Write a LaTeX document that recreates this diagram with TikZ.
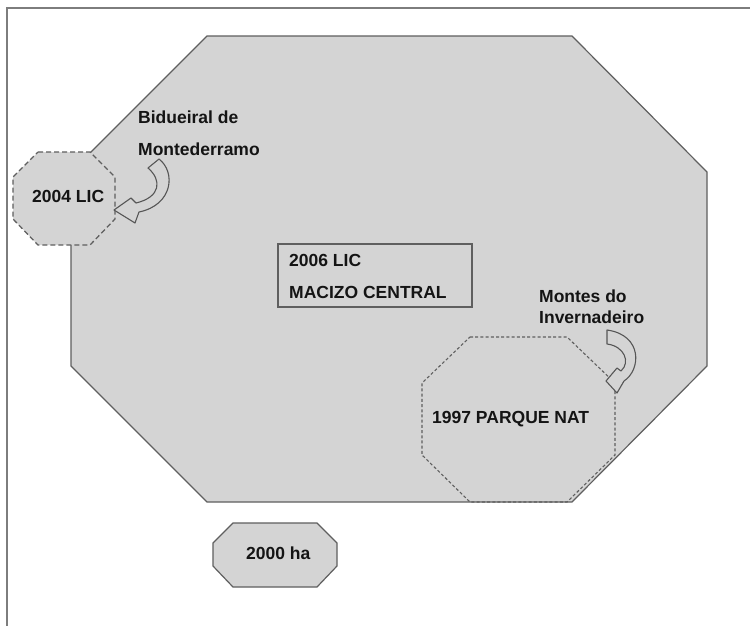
\documentclass[tikz,border=0pt]{standalone}
\usepackage{fontspec}
\setmainfont{Liberation Sans}
\definecolor{shade}{RGB}{212,212,212}
\definecolor{edge}{RGB}{95,95,95}
\definecolor{txt}{RGB}{20,20,20}
\definecolor{framec}{RGB}{125,125,125}
\begin{document}
\begin{tikzpicture}[x=1pt,y=-1pt,
  lbl/.style={font=\fontsize{17.5}{20}\selectfont\bfseries, text=txt, inner sep=0pt, anchor=base west},
  octsolid/.style={fill=shade, draw=edge, line width=1.2pt, line join=miter},
  octdash/.style={fill=shade, draw=edge, line width=1.3pt, dash pattern=on 5pt off 3pt},
  octdot/.style={draw=edge, line width=1.1pt, dash pattern=on 3pt off 2.2pt},
  blockarrow/.style={fill=shade, draw=edge!90!black, line width=1.1pt, line join=round}]
\useasboundingbox (0,0) rectangle (750,625);
\fill[white] (0,0) rectangle (750,625);
\begin{scope}
\clip (0,0) rectangle (750,625);
\draw[framec, line width=1.5pt] (7,8) rectangle (770,650);
\end{scope}
% main octagon
\draw[octsolid] (207,36) -- (572,36) -- (707,172) -- (707,366) -- (572,502) -- (207,502) -- (71,366) -- (71,172) -- cycle;
% 2004 LIC octagon
\draw[octdash] (38,152) -- (90,152) -- (115,177) -- (115,219) -- (90,245) -- (38,245) -- (13,219) -- (13,177) -- cycle;
% 1997 parque octagon
\draw[octdot] (470,337) -- (567,337) -- (615,383) -- (615,455) -- (567,502) -- (470,502) -- (422,455) -- (422,383) -- cycle;
% 2000 ha octagon
\draw[octsolid] (233,523) -- (317,523) -- (337,543) -- (337,566) -- (317,587) -- (233,587) -- (213,566) -- (213,543) -- cycle;
% central box
\node[draw=edge, line width=1.2pt, minimum width=194pt, minimum height=63pt, inner sep=0pt] (box) at (375,275.5) {};
% curved block arrows
\draw[blockarrow] (148,168) -- (159,159) .. controls (176,172) and (173,205) .. (139,212)
  -- (135,223) -- (114,210) -- (131,198) -- (136,203)
  .. controls (161,197) and (162,180) .. (148,168) -- cycle;
\draw[blockarrow] (607,330) -- (607,344) .. controls (624,346) and (631,362) .. (621,371)
  -- (617,368) -- (606,381) -- (617,393) -- (624,381)
  .. controls (641,370) and (643,335) .. (607,330) -- cycle;
% labels
\node[lbl] (bid1) at (138,123) {Bidueiral de};
\node[lbl] (bid2) at (138,155) {Montederramo};
\node[lbl] (lic04) at (32,202) {2004 LIC};
\node[lbl] (lic06) at (289,266) {2006 LIC};
\node[lbl] (macizo) at (289,298) {MACIZO CENTRAL};
\node[lbl] (mon1) at (539,302) {Montes do};
\node[lbl] (mon2) at (539,323) {Invernadeiro};
\node[lbl] (parque) at (432,423) {1997 PARQUE NAT};
\node[lbl] (ha) at (246,559) {2000 ha};
\end{tikzpicture}
\end{document}
